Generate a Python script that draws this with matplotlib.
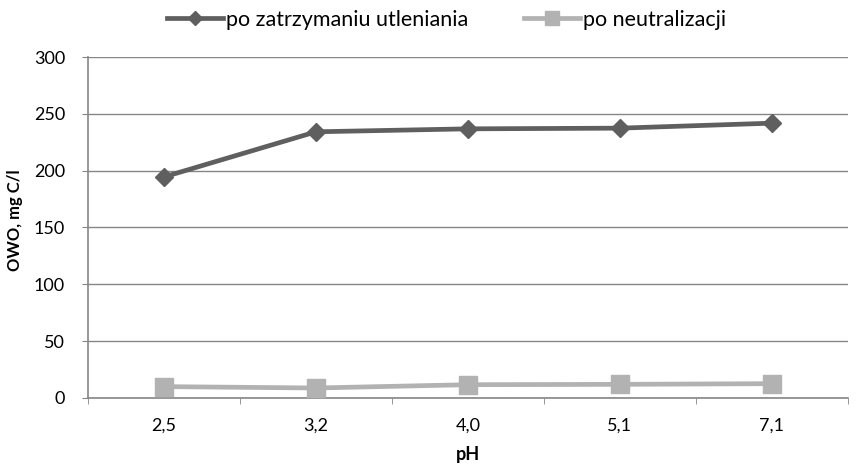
import matplotlib.pyplot as plt
import numpy as np

plt.rcParams['font.family'] = ['Lato', 'DejaVu Sans']

ph = ['2,5', '3,2', '4,0', '5,1', '7,1']
po_zatrzymaniu = [194.5, 234.2, 236.8, 237.4, 241.8]
po_neutralizacji = [10.0, 8.8, 11.7, 12.0, 12.6]

grid_c = '#868686'
dark = '#5f5f5f'
light = '#b2b2b2'

fig = plt.figure(figsize=(8.67, 4.68), dpi=100)
ax = fig.add_axes([0.1015, 0.1496, 0.8765, 0.7286])

x = np.arange(len(ph))
ax.plot(x, po_zatrzymaniu, color=dark, lw=3.4, marker='D', markersize=9.5,
        label='po zatrzymaniu utleniania', zorder=3)
ax.plot(x, po_neutralizacji, color=light, lw=3.4, marker='s', markersize=12.5,
        label='po neutralizacji', zorder=3)

ax.set_xlim(-0.5, len(ph) - 0.5)
ax.set_ylim(0, 300)
ax.set_yticks(np.arange(0, 301, 50))
ax.yaxis.grid(True, color=grid_c, lw=1)
ax.set_axisbelow(True)

ax.set_xticks(x)
ax.set_xticklabels(ph)
ax.set_xticks(np.arange(-0.5, len(ph)), minor=True)
ax.tick_params(axis='x', which='major', length=0, pad=14, labelsize=13)
ax.tick_params(axis='x', which='minor', length=4.5, color=grid_c, direction='out')
ax.tick_params(axis='y', length=4.5, color=grid_c, labelsize=13, pad=12)

for s in ['top', 'right']:
    ax.spines[s].set_visible(False)
for s in ['left', 'bottom']:
    ax.spines[s].set_color(grid_c)
    ax.spines[s].set_linewidth(1.2)

ax.set_xlabel('pH', fontweight='bold', fontsize=13, labelpad=9)
ax.set_ylabel('OWO, mg C/l', fontweight='bold', fontsize=12)
ax.yaxis.set_label_coords(-0.086, 0.52)

fig.legend(loc='upper center', bbox_to_anchor=(0.515, 1.02), ncol=2, frameon=False,
           fontsize=15.5, handlelength=2.6, columnspacing=2.6, handletextpad=0.15,
           markerscale=0.75)

fig.savefig('out.png', dpi=100)
